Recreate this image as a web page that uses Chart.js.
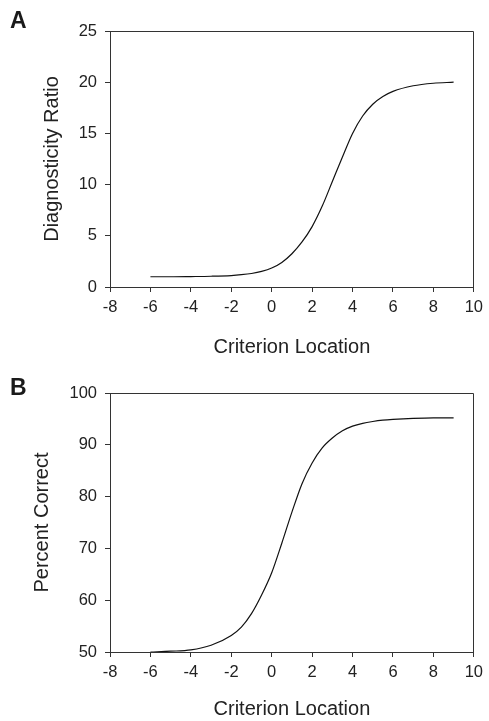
<!DOCTYPE html>
<html>
<head>
<meta charset="utf-8">
<script src="https://cdn.jsdelivr.net/npm/chart.js@4"></script>
<style>
  body { margin: 0; background: #fff; }
  .panel { position: absolute; left: 0; width: 489px; }
  .tag { position: absolute; left: 10px; font: bold 23px "Liberation Sans", Arial, sans-serif; color: #1a1a1a; line-height: 1; }
</style>
</head>
<body>
<div class="panel" style="top:0;height:360px"><canvas id="chartA"></canvas></div>
<div class="panel" style="top:360px;height:361px"><canvas id="chartB"></canvas></div>
<div class="tag" style="top:9px">A</div>
<div class="tag" style="top:376px">B</div>
<script>
// values
const criterion = [-6, -5, -4, -3, -2, -1.5, -1, -0.5, 0, 0.5, 1, 1.5, 2, 2.5, 3, 3.5, 4, 4.5, 5, 5.5, 6, 7, 8, 9];
const diagnosticityRatio = [1.0, 1.0, 1.02, 1.05, 1.12, 1.2, 1.32, 1.52, 1.85, 2.4, 3.25, 4.4, 5.9, 7.9, 10.3, 12.7, 15.0, 16.7, 17.85, 18.6, 19.1, 19.65, 19.9, 20.0];
const percentCorrect = [50.0, 50.15, 50.4, 51.3, 53.2, 54.8, 57.4, 61.0, 65.3, 71.0, 77.0, 82.5, 86.5, 89.4, 91.3, 92.7, 93.6, 94.15, 94.5, 94.75, 94.9, 95.1, 95.2, 95.2];

const xTicks = [-8, -6, -4, -2, 0, 2, 4, 6, 8, 10];
const ratioTicks = [0, 5, 10, 15, 20, 25];
const percentTicks = [50, 60, 70, 80, 90, 100];

const FONT = '"Liberation Sans", Arial, sans-serif';
const INK = '#222';
const AXIS = '#333';

// top and right edges of the box
const frame = {
    id: 'frame',
    afterDraw(chart) {
        const { ctx, chartArea: a } = chart;
        ctx.save();
        ctx.strokeStyle = AXIS;
        ctx.lineWidth = 1;
        ctx.beginPath();
        ctx.moveTo(Math.round(a.left) + 0.5, Math.round(a.top) + 0.5);
        ctx.lineTo(Math.round(a.right) - 0.5, Math.round(a.top) + 0.5);
        ctx.lineTo(Math.round(a.right) - 0.5, Math.round(a.bottom));
        ctx.stroke();
        ctx.restore();
    }
};

function makeChart(id, yValues, yTicks, yTitle, opts) {
    const points = criterion.map((c, i) => ({ x: c, y: yValues[i] }));
    return new Chart(document.getElementById(id), {
        type: 'line',
        data: {
            datasets: [{
                data: points,
                borderColor: '#111',
                borderWidth: 1.2,
                pointRadius: 0,
                cubicInterpolationMode: 'monotone',
                fill: false
            }]
        },
        options: {
            responsive: true,
            maintainAspectRatio: false,
            animation: false,
            layout: { padding: opts.padding },
            plugins: {
                legend: { display: false },
                tooltip: { enabled: false }
            },
            scales: {
                x: {
                    type: 'linear',
                    min: -8,
                    max: 10,
                    afterBuildTicks: s => { s.ticks = xTicks.map(v => ({ value: v })); },
                    afterFit: s => { s.height = opts.xHeight; },
                    grid: { drawOnChartArea: false, tickLength: 5, tickColor: AXIS },
                    border: { color: AXIS },
                    ticks: { color: INK, padding: 6, maxRotation: 0, font: { family: FONT, size: 16.5 } },
                    title: {
                        display: true,
                        text: 'Criterion Location',
                        color: INK,
                        padding: { top: 0, bottom: opts.xTitlePad },
                        font: { family: FONT, size: 20 }
                    }
                },
                y: {
                    min: yTicks[0],
                    max: yTicks[yTicks.length - 1],
                    afterBuildTicks: s => { s.ticks = yTicks.map(v => ({ value: v })); },
                    afterFit: s => { s.width = 110; },
                    grid: { drawOnChartArea: false, tickLength: 5, tickColor: AXIS },
                    border: { color: AXIS },
                    ticks: { color: INK, padding: 8, font: { family: FONT, size: 16.5 } },
                    title: {
                        display: true,
                        text: yTitle,
                        color: INK,
                        padding: { top: opts.yTitlePad, bottom: 0 },
                        font: { family: FONT, size: 20 }
                    }
                }
            }
        },
        plugins: [frame]
    });
}

makeChart('chartA', diagnosticityRatio, ratioTicks, 'Diagnosticity Ratio',
    { padding: { top: 31, right: 12, left: 0, bottom: 0 }, xHeight: 73, xTitlePad: 1, yTitlePad: 40 });
makeChart('chartB', percentCorrect, percentTicks, 'Percent Correct',
    { padding: { top: 33, right: 9, left: 0, bottom: 0 }, xHeight: 69, xTitlePad: 0, yTitlePad: 30 });
</script>
</body>
</html>
